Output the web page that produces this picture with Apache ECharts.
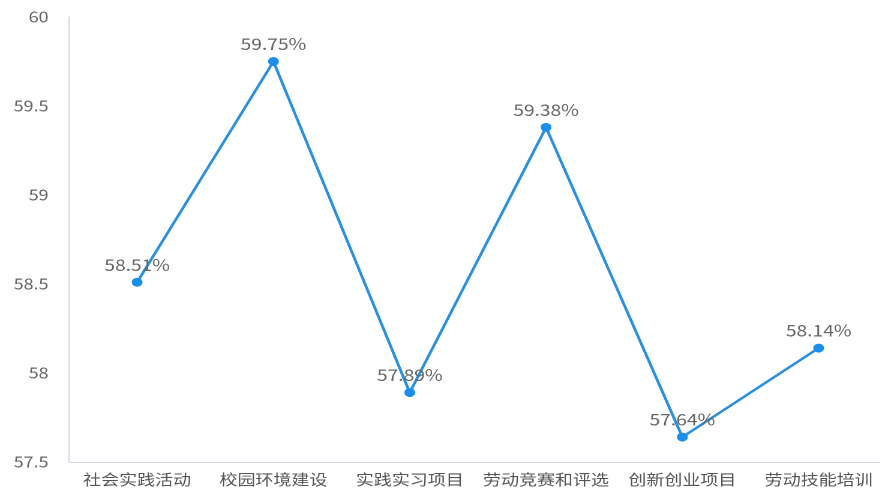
<!DOCTYPE html>
<html><head><meta charset="utf-8">
<script src="https://cdn.jsdelivr.net/npm/echarts@6/dist/echarts.min.js"></script>
<style>
html,body{margin:0;padding:0;background:#fff;overflow:hidden;width:880px;height:488px}
#c{width:740px;height:488px;transform:scaleX(1.2);transform-origin:0 0}
</style>
</head><body><div id="c"></div>
<script>
const categories = ['社会实践活动','校园环境建设','实践实习项目','劳动竞赛和评选','创新创业项目','劳动技能培训'];
const values = [58.51, 59.75, 57.89, 59.38, 57.64, 58.14];
const yTicks = {min: 57.5, max: 60, interval: 0.5};
const chart = echarts.init(document.getElementById('c'), null, {devicePixelRatio: 2});
chart.setOption({
  animation: false,
  textStyle: {fontFamily: '"Noto Sans CJK SC", "Noto Sans", sans-serif'},
  grid: {left: 57.5, right: 1, top: 17, bottom: 26, containLabel: false},
  xAxis: {
    type: 'category', data: categories, boundaryGap: true,
    axisLine: {lineStyle: {color: '#d3d6e4', width: 1}},
    axisTick: {show: false},
    axisLabel: {color: '#555', fontSize: 15, margin: 10, interval: 0}
  },
  yAxis: {
    type: 'value', min: yTicks.min, max: yTicks.max, interval: yTicks.interval,
    axisLine: {show: true, lineStyle: {color: '#d3d6e4', width: 1}},
    axisTick: {show: false},
    splitLine: {show: false},
    axisLabel: {color: '#666', fontSize: 15, margin: 17}
  },
  series: [{
    type: 'line', data: values,
    symbol: 'circle', symbolSize: 9,
    lineStyle: {color: '#2b8fdf', width: 2.4},
    itemStyle: {color: '#1a8eea'},
    label: {show: true, position: 'top', distance: 5, color: '#666', fontSize: 16,
      formatter: p => p.value.toFixed(2) + '%'}
  }]
});
</script></body></html>
